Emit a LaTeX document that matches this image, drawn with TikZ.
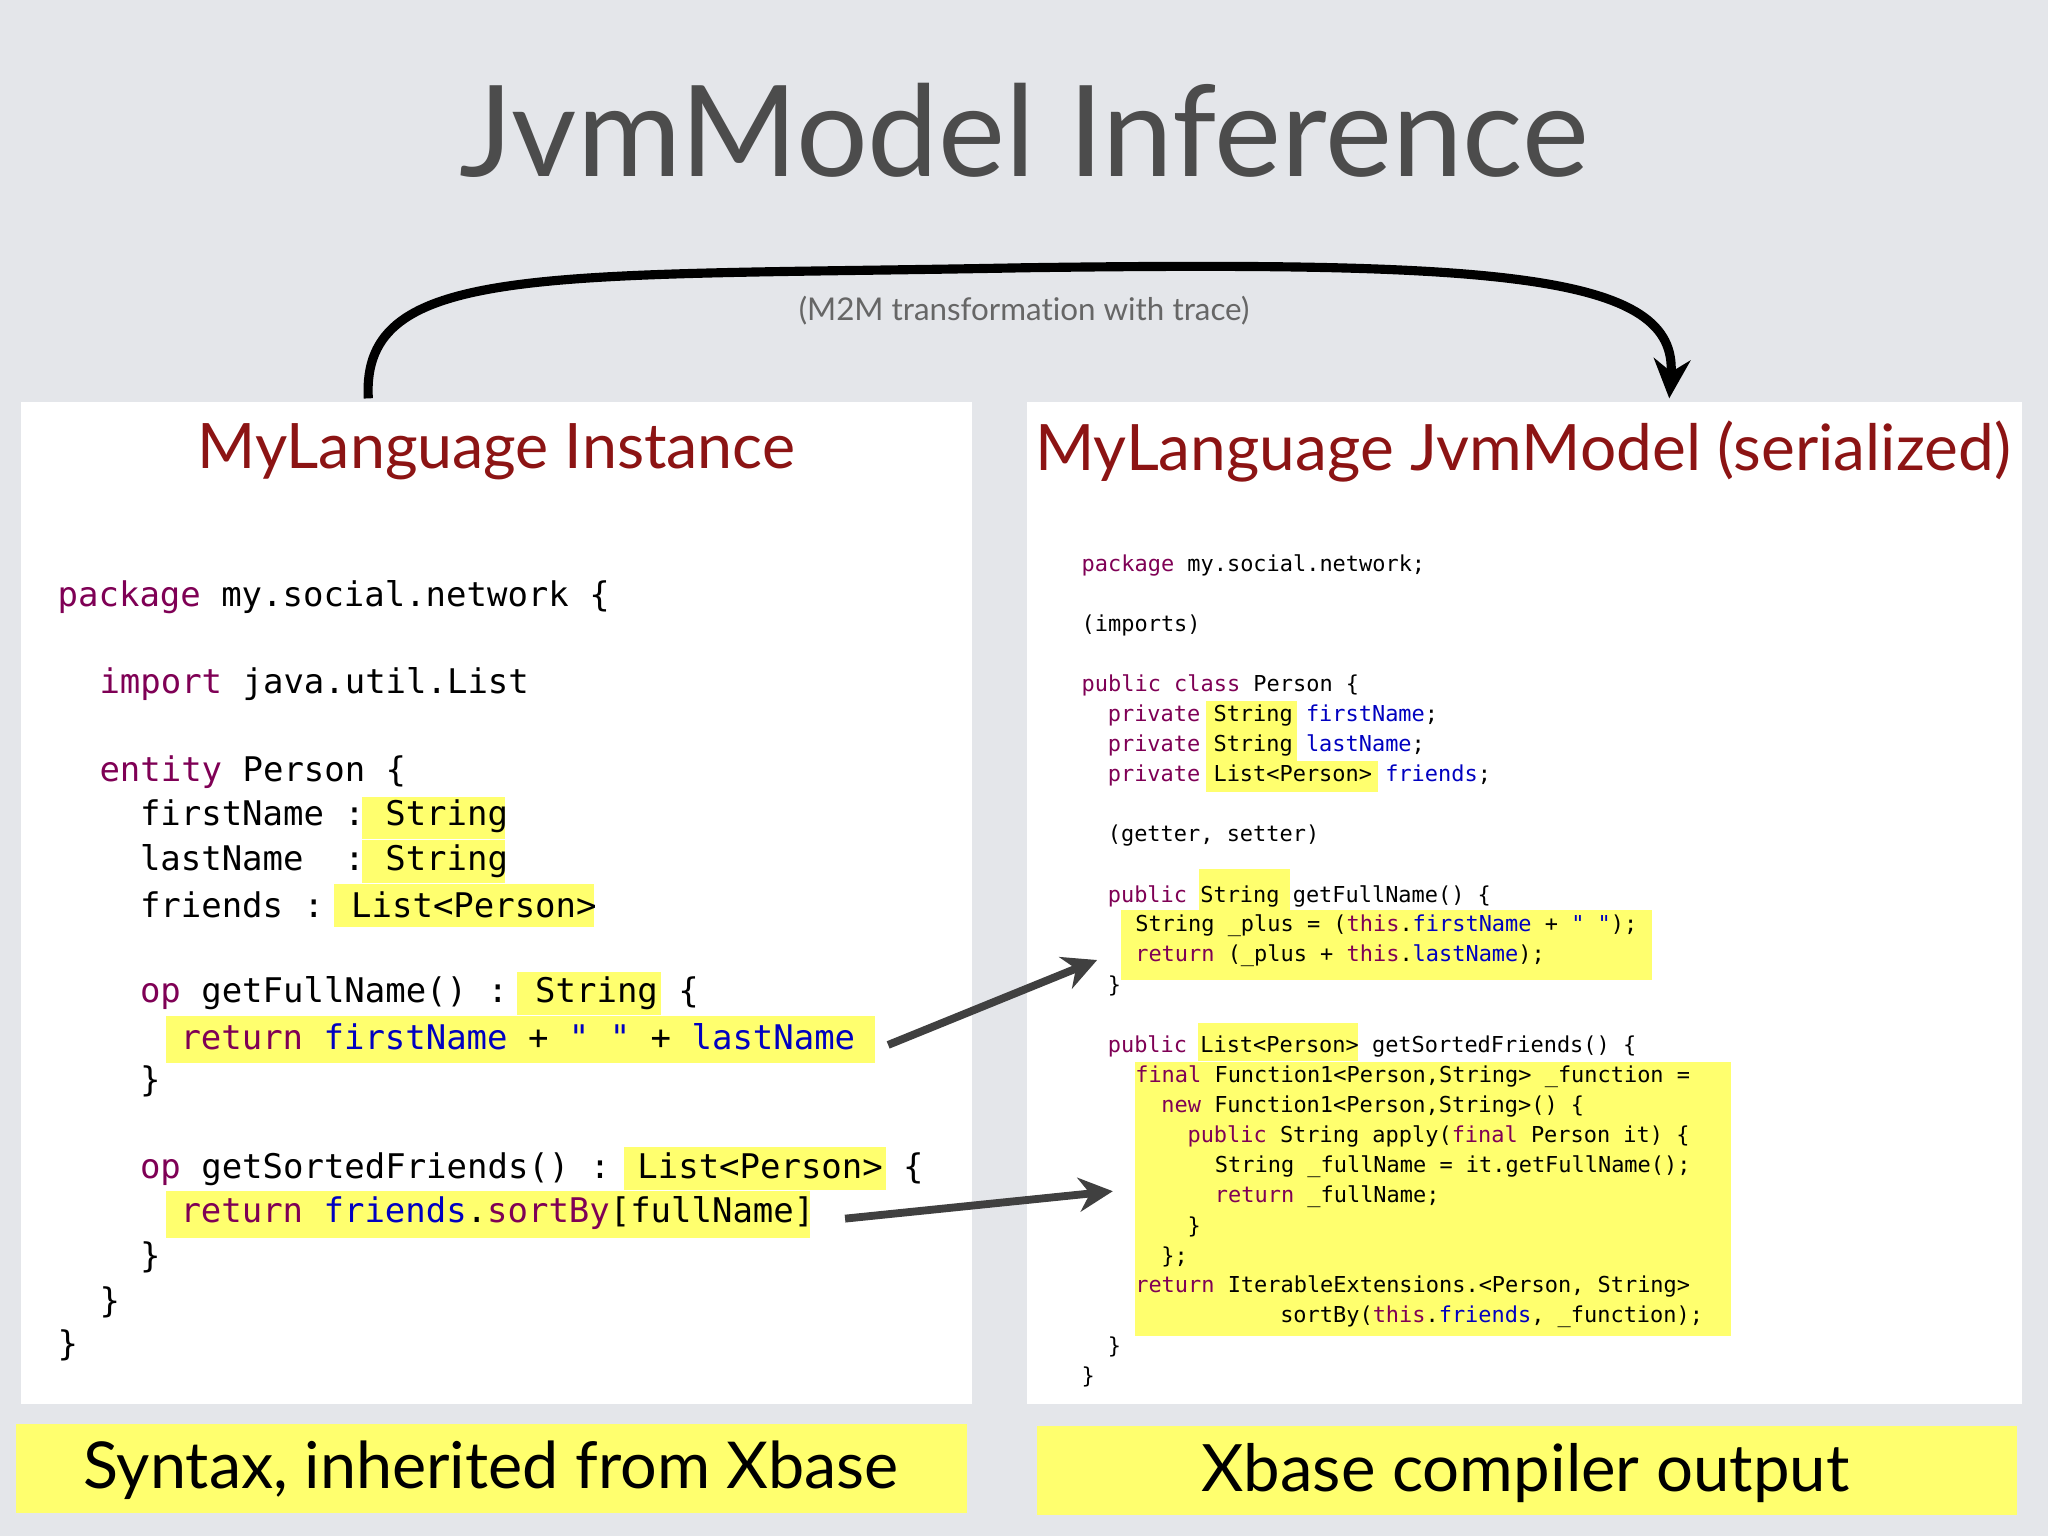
\documentclass[tikz,border=0pt]{standalone}
\usepackage{fontspec}
\setmainfont{Lato}
\newfontfamily\codefont{DejaVu Sans Mono}
\usetikzlibrary{arrows.meta}
\definecolor{kwc}{RGB}{127,0,85}
\definecolor{fdc}{RGB}{0,0,192}
\definecolor{ttl}{RGB}{140,20,20}
\definecolor{hly}{RGB}{255,255,110}
\definecolor{bgc}{RGB}{228,230,234}
\newcommand{\kw}[1]{\textcolor{kwc}{#1}}
\newcommand{\fd}[1]{\textcolor{fdc}{#1}}
\tikzset{
 lc/.style={anchor=west,inner sep=0pt,font=\codefont\fontsize{26}{26}\selectfont},
 rc/.style={anchor=west,inner sep=0pt,font=\codefont\fontsize{16.8}{17}\selectfont},
 hl/.style={fill=hly,draw=none},
 arr/.style={line width=6pt,draw=black!75,-{Stealth[length=26pt,width=26pt]}}
}
\begin{document}
\begin{tikzpicture}[x=1pt,y=-1pt]
\fill[bgc] (0,0) rectangle (1568,1176);
\useasboundingbox (0,0) rectangle (1568,1176);
\node[font=\fontsize{97}{97}\selectfont,text=black!70] (title) at (784,100) {JvmModel Inference};
\fill[white] (16,308) rectangle (744,1075);
\fill[white] (786,308) rectangle (1548,1075);
\fill[hly] (12,1090) rectangle (740,1158);
\fill[hly] (794,1092) rectangle (1544,1160);
% curved arrow
\coordinate (cs) at (282,305);
\coordinate (ce) at (1278,305);
\draw[line width=7pt,-{Stealth[length=30pt,width=28pt]}] (cs) .. controls (276,200) and (420,212) .. (784,205) .. controls (1150,200) and (1285,210) .. (ce);
\node[font=\addfontfeatures{Ligatures=NoCommon}\fontsize{24}{24}\selectfont,text=black!60] (m2m) at (784,238) {(M2M transformation with trace)};
\node[font=\fontsize{48}{48}\selectfont,text=ttl] (t1) at (380,346) {MyLanguage Instance};
\node[font=\fontsize{49}{49}\selectfont,text=ttl] (t2) at (1166,346) {MyLanguage JvmModel (serialized)};
\node[font=\fontsize{49.5}{50}\selectfont] (b1) at (376,1126) {Syntax, inherited from Xbase};
\node[font=\fontsize{50}{50}\selectfont] (b2) at (1168,1128) {Xbase compiler output};
% left highlights
\fill[hl] (277,610) rectangle (387,642);
\fill[hl] (277,643) rectangle (387,676);
\fill[hl] (256,677) rectangle (455,710);
\fill[hl] (396,744) rectangle (506,777);
\fill[hl] (127,778) rectangle (670,814);
\fill[hl] (478,878) rectangle (678,911);
\fill[hl] (127,912) rectangle (620,948);
% left code
\node[lc] (l1) at (44,457) {\kw{package} my.social.network \{};
\node[lc] (l2) at (76,524) {\kw{import} java.util.List};
\node[lc] (l3) at (76,591) {\kw{entity} Person \{};
\node[lc] (l4) at (107,625) {firstName :~String};
\node[lc] (l5) at (107,659) {lastName\ \ :~String};
\node[lc] (l6) at (107,693) {friends : List<Person>};
\node[lc] (l7) at (107,760) {\kw{op} getFullName() : String \{};
\node[lc] (l8) at (138,794) {\kw{return} \fd{firstName} + \fd{" "} + \fd{lastName}};
\node[lc] (l9) at (107,828) {\}};
\node[lc] (l10) at (107,895) {\kw{op} getSortedFriends() : List<Person> \{};
\node[lc] (l11) at (138,929) {\kw{return} \fd{friends}.\kw{sortBy}[fullName]};
\node[lc] (l12) at (107,963) {\}};
\node[lc] (l13) at (76,997) {\}};
\node[lc] (l14) at (44,1030) {\}};
% right highlights
\fill[hl] (923,537) rectangle (993,560);
\fill[hl] (923,560) rectangle (993,583);
\fill[hl] (923,583) rectangle (1055,606);
\fill[hl] (918,665) rectangle (988,697);
\fill[hl] (858,697) rectangle (1265,750);
\fill[hl] (917,783) rectangle (1040,812);
\fill[hl] (869,813) rectangle (1325,1023);
% right code
\node[rc] (r1) at (828,433) {\kw{package} my.social.network;};
\node[rc] (r2) at (828,479) {(imports)};
\node[rc] (r3) at (828,525) {\kw{public class} Person \{};
\node[rc] (r4) at (848,548) {\kw{private} String \fd{firstName};};
\node[rc] (r5) at (848,571) {\kw{private} String \fd{lastName};};
\node[rc] (r6) at (848,594) {\kw{private} List<Person> \fd{friends};};
\node[rc] (r7) at (848,640) {(getter, setter)};
\node[rc] (r8) at (848,686) {\kw{public} String getFullName() \{};
\node[rc] (r9) at (869,709) {String \_plus = (\kw{this}.\fd{firstName} + \fd{" "});};
\node[rc] (r10) at (869,732) {\kw{return} (\_plus + \kw{this}.\fd{lastName});};
\node[rc] (r11) at (848,755) {\}};
\node[rc] (r12) at (848,801) {\kw{public} List<Person> getSortedFriends() \{};
\node[rc] (r13) at (869,824) {\kw{final} Function1<Person,String> \_function =};
\node[rc] (r14) at (889,847) {\kw{new} Function1<Person,String>() \{};
\node[rc] (r15) at (909,870) {\kw{public} String apply(\kw{final} Person it) \{};
\node[rc] (r16) at (930,893) {String \_fullName = it.getFullName();};
\node[rc] (r17) at (930,916) {\kw{return} \_fullName;};
\node[rc] (r18) at (909,939) {\}};
\node[rc] (r19) at (889,962) {\};};
\node[rc] (r20) at (869,985) {\kw{return} IterableExtensions.<Person, String>};
\node[rc] (r21) at (980,1008) {sortBy(\kw{this}.\fd{friends}, \_function);};
\node[rc] (r22) at (848,1031) {\}};
\node[rc] (r23) at (828,1054) {\}};
% arrows
\coordinate (a1s) at (680,800);
\coordinate (a1e) at (840,735);
\coordinate (a2s) at (647,933);
\coordinate (a2e) at (852,912);
\draw[arr] (a1s) -- (a1e);
\draw[arr] (a2s) -- (a2e);
\end{tikzpicture}
\end{document}
